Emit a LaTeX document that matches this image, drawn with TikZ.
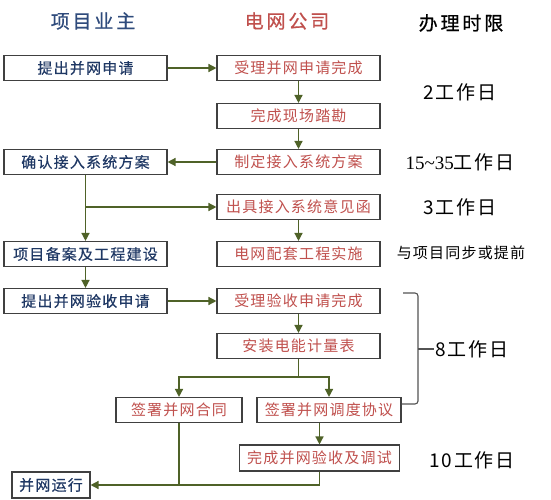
\documentclass[tikz,border=0pt]{standalone}
\usepackage{fontspec}
\setmainfont{Noto Sans CJK SC}
\newfontfamily\headfont[LetterSpace=15,FakeBold=0.6]{Noto Sans CJK SC}
\newfontfamily\boxfont[LetterSpace=8]{Noto Sans CJK SC}
\newfontfamily\ownerfont[LetterSpace=8,FakeBold=0.4]{Noto Sans CJK SC}
\newfontfamily\daysfont[LetterSpace=9]{Noto Sans CJK SC}
\newfontfamily\numfont{Liberation Serif}
\usetikzlibrary{arrows.meta}
\definecolor{headblue}{HTML}{2F4B7C}
\definecolor{ownerblue}{HTML}{1F3864}
\definecolor{gridred}{HTML}{C0504D}
\definecolor{flowgreen}{HTML}{4F6228}
\definecolor{boxgray}{HTML}{404040}
\begin{document}
\begin{tikzpicture}[x=1pt, y=-1pt,
    box/.style={draw=boxgray, line width=1.1pt, minimum width=163pt, minimum height=25pt, inner sep=0pt, font=\boxfont\fontsize{15}{18}\selectfont},
    ownerbox/.style={box, text=ownerblue, font=\ownerfont\fontsize{15}{18}\selectfont},
    gridbox/.style={box, text=gridred},
    flowline/.style={draw=flowgreen, line width=1.4pt},
    flow/.style={flowline, -{Triangle[length=8pt,width=8pt]}},
    head/.style={font=\headfont\fontsize{19}{23}\selectfont},
    days/.style={font=\daysfont\fontsize{19}{23}\selectfont},
    bracket/.style={draw=boxgray!90, line width=1.1pt}]
        % Page
        \path[use as bounding box, fill=white] (0,0) rectangle (551,500);

        % Headers
        \node[head, text=headblue] (headowner) at (93,21) {项目业主};
        \node[head, text=gridred] (headgrid) at (287,21) {电网公司};
        \node[head] (headtime) at (461,23) {办理时限};

        % Owner steps
        \node[ownerbox] (owner1) at (85.5,68) {提出并网申请};
        \node[ownerbox] (owner2) at (85.5,162) {确认接入系统方案};
        \node[ownerbox] (owner3) at (85.5,254) {项目备案及工程建设};
        \node[ownerbox] (owner4) at (85.5,301) {提出并网验收申请};
        \node[ownerbox, minimum width=78pt, minimum height=26pt] (run) at (51,485) {并网运行};

        % Grid company steps
        \node[gridbox] (grid1) at (298.5,68) {受理并网申请完成};
        \node[gridbox] (grid2) at (298.5,116) {完成现场踏勘};
        \node[gridbox] (grid3) at (298.5,162) {制定接入系统方案};
        \node[gridbox] (grid4) at (298.5,207) {出具接入系统意见函};
        \node[gridbox] (grid5) at (298.5,254) {电网配套工程实施};
        \node[gridbox] (grid6) at (298.5,301) {受理验收申请完成};
        \node[gridbox] (grid7) at (298.5,346) {安装电能计量表};
        \node[gridbox, minimum width=126pt] (contract) at (179,410) {签署并网合同};
        \node[gridbox, minimum width=144pt] (sched) at (329,410) {签署并网调度协议};
        \node[gridbox, minimum width=160pt, minimum height=26pt] (done) at (319.5,458) {完成并网验收及调试};

        % Time limits
        \node[days] (days2) at (460,92) {2工作日};
        \node[days] (days15) at (460,162) {{\numfont 15\textasciitilde35}工作日};
        \node[days] (days3) at (460,207) {3工作日};
        \node[font=\boxfont\fontsize{15}{18}\selectfont] (sync) at (461,253) {与项目同步或提前};
        \node[days, inner sep=1pt] (days8) at (472,349) {8工作日};
        \node[days] (days10) at (472,460) {10工作日};

        % Flow
        \draw[flow] (owner1) -- (grid1);
        \draw[flow] (grid1) -- (grid2);
        \draw[flow] (grid2) -- (grid3);
        \draw[flow] (grid3) -- (owner2);
        \draw[flow] (owner2) -- (owner3);
        \coordinate (branch) at (owner2.south |- grid4.west);
        \draw[flow] (branch) -- (grid4.west);
        \draw[flow] (grid4) -- (grid5);
        \draw[flow] (owner3) -- (owner4);
        \draw[flow] (owner4) -- (grid6);
        \draw[flow] (grid6) -- (grid7);
        \coordinate (split) at (298.5,377);
        \draw[flowline] (grid7.south) -- (split);
        \draw[flow] (split) -| (contract.north);
        \draw[flow] (split) -| (sched.north);
        \draw[flow] (done.north |- sched.south) -- (done.north);
        \draw[flow] (done.south) |- (run.east);
        \draw[flowline] (contract.south) -- (contract.south |- run.east);

        % Bracket for 8 days
        \draw[bracket, rounded corners=3pt] (403,293) -- (418,293) -- (418,404) -- (sched.east |- 0,404);
        \draw[bracket] (418,349) -- (days8.west);
\end{tikzpicture}
\end{document}
